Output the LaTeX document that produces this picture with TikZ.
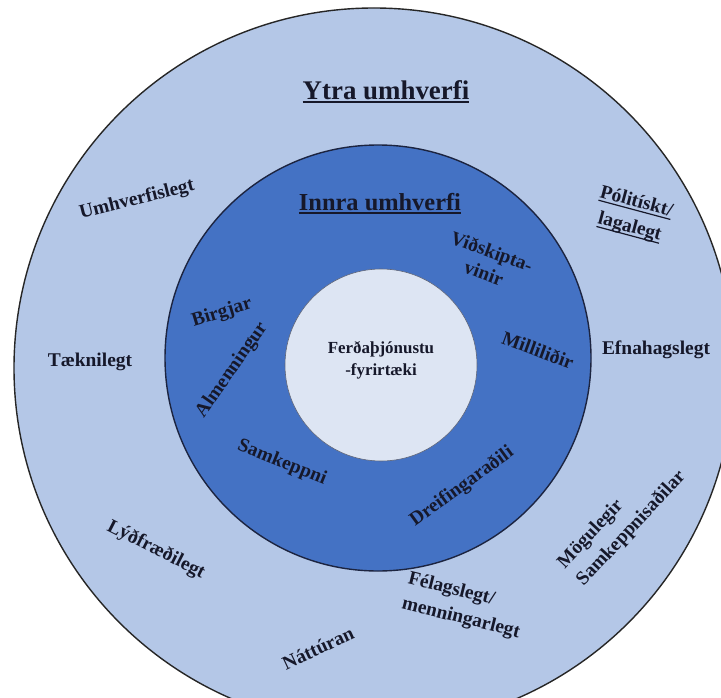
\documentclass[tikz,border=0pt]{standalone}
\usepackage{fontspec}
\setmainfont{Liberation Serif}

\definecolor{outerfill}{RGB}{180,199,231}
\definecolor{midfill}{RGB}{68,114,196}
\definecolor{corefill}{RGB}{221,229,243}
\definecolor{ink}{RGB}{22,24,42}
\definecolor{rim}{RGB}{28,36,64}

% underline drawn as a rule of chosen thickness under the text
\newcommand\ulbar[2][1.6pt]{\setbox0=\hbox{#2}\rlap{\rule[-3.6pt]{\wd0}{#1}}\box0}

\tikzset{
  ring/.style={circle, inner sep=0pt, line width=1.4bp},
  lbl/.style={font=\fontsize{19.5}{26}\selectfont\bfseries, text=ink, align=center, inner sep=0pt},
  lblleft/.style={lbl, align=left},
  head/.style={font=\fontsize{27}{30}\selectfont\bfseries, text=ink, inner sep=0pt},
}

\begin{document}
\begin{tikzpicture}[x=1bp, y=-1bp]
  \useasboundingbox (0,0) rectangle (721,698);
  \clip (0,0) rectangle (721,698);
  \fill[white] (0,0) rectangle (721,698);

  % three nested circles
  \node[ring, draw=black!85, fill=outerfill, minimum size=720bp] (outer) at (374,368) {};
  \node[ring, draw=rim, fill=midfill, minimum size=426bp] (mid) at (378,358) {};
  \node[ring, draw=rim!70, line width=0.6bp, fill=corefill, minimum size=192bp] (core) at (381,365) {};

  % headings
  \node[head] (ytra) at (386,92) {\ulbar[2pt]{Ytra umhverfi}};
  \node[head, font=\fontsize{24.5}{28}\selectfont\bfseries] (innra) at (380,204) {\ulbar[2pt]{Innra umhverfi}};

  % centre
  \node[lbl, font=\fontsize{17}{22}\selectfont\bfseries] (firm) at (381,360) {Ferðaþjónustu\\-fyrirtæki};

  % outer ring labels
  \node[lbl, rotate=14] (umhv) at (137,200) {Umhverfislegt};
  \node[lbl, rotate=-15] (polit) at (633,215) {\ulbar[1.2pt]{Pólitískt/}\\\ulbar[1.2pt]{lagalegt}};
  \node[lbl] (taekni) at (90,362) {Tæknilegt};
  \node[lbl] (efna) at (656,350) {Efnahagslegt};
  \node[lbl, rotate=-27] (lydf) at (156,550) {Lýðfræðilegt};
  \node[lbl, rotate=25] (natt) at (318,648) {Náttúran};
  \node[lblleft, rotate=-14] (felag) at (464,606) {Félagslegt/\\menningarlegt};
  \node[lblleft, rotate=47] (mogul) at (622,520) {Mögulegir\\Samkeppnisaðilar};

  % inner ring labels
  \node[lbl, font=\fontsize{19.5}{23}\selectfont\bfseries, rotate=-20] (vidsk) at (488,262) {Viðskipta-\\vinir};
  \node[lbl, rotate=17] (birg) at (222,313) {Birgjar};
  \node[lbl, rotate=55] (almen) at (232,370) {Almenningur};
  \node[lbl, rotate=-20] (milli) at (538,350) {Milliliðir};
  \node[lbl, rotate=-22] (samk) at (282,463) {Samkeppni};
  \node[lbl, rotate=36] (dreif) at (462,487) {Dreifingaraðili};
\end{tikzpicture}
\end{document}
